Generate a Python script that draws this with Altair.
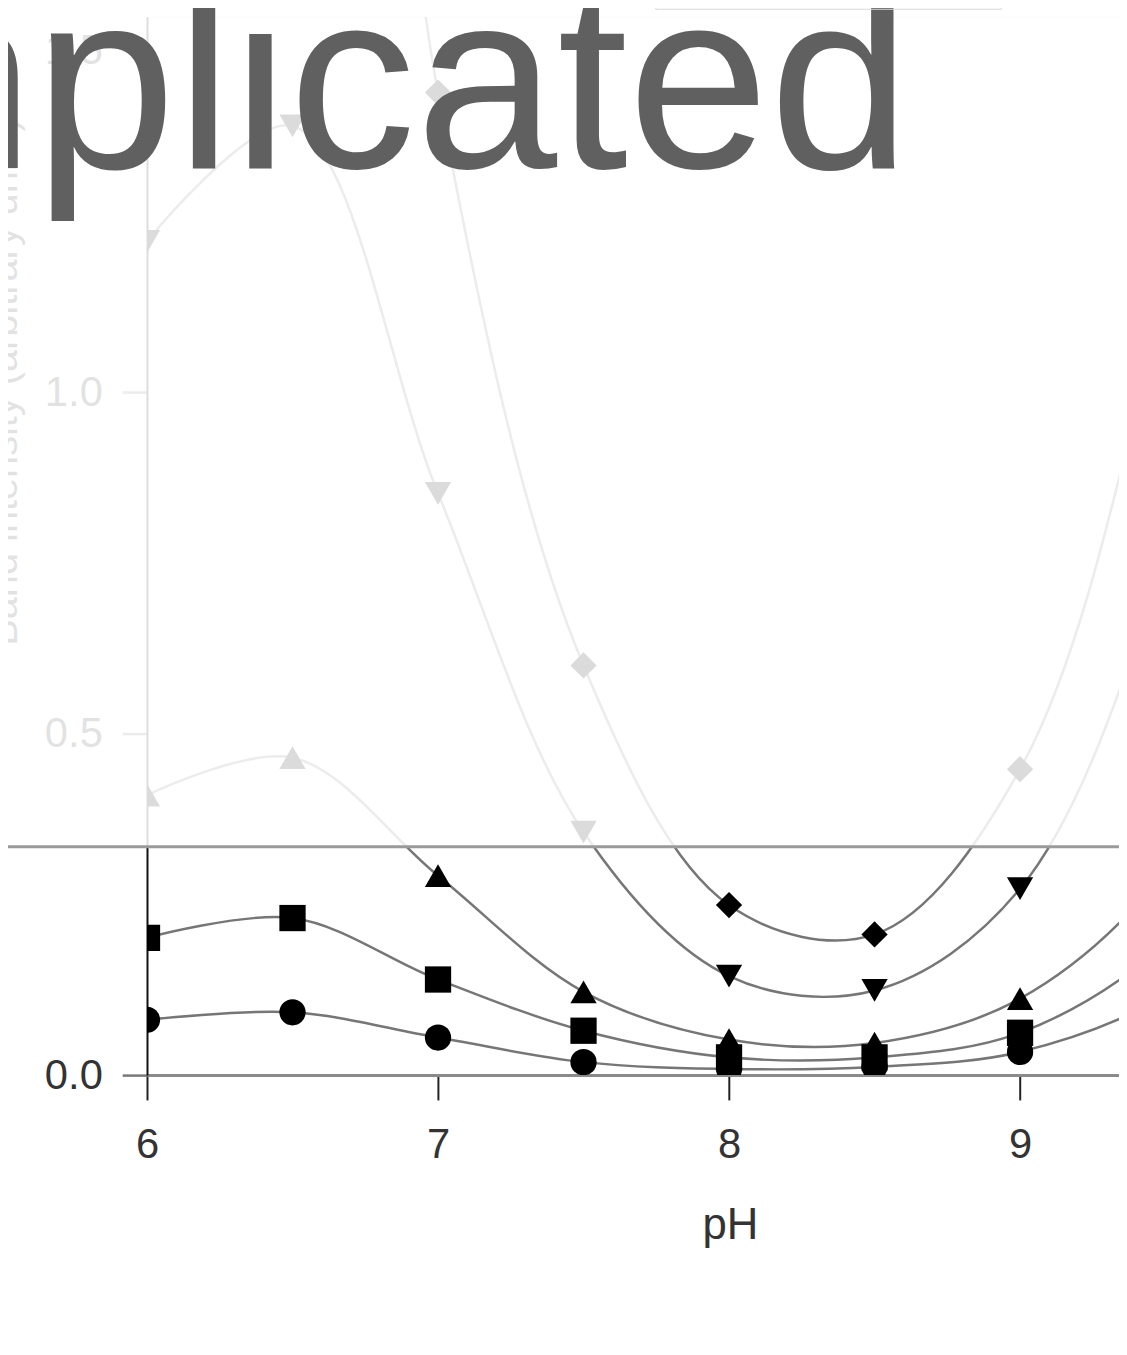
import altair as alt
import pandas as pd

# ---- data ----
ph = [6.0, 6.5, 7.0, 7.5, 8.0, 8.5, 9.0, 9.5, 10.0]
series_names = ["Series 1", "Series 2", "Series 3", "Series 4", "Series 5"]
circle_vals = [0.081, 0.092, 0.055, 0.019, 0.009, 0.012, 0.034, 0.117, 0.30]
square_vals = [0.201, 0.230, 0.140, 0.065, 0.026, 0.026, 0.062, 0.192, 0.45]
tri_up_vals = [0.410, 0.465, 0.292, 0.122, 0.052, 0.047, 0.112, 0.299, 0.70]
tri_down_vals = [1.221, 1.390, 0.852, 0.356, 0.145, 0.124, 0.273, 0.757, 1.60]
diamond_vals = [2.60, 3.10, 1.439, 0.600, 0.249, 0.206, 0.448, 1.151, 2.20]
shapes = ["circle", "square", "triangle-up", "triangle-down", "diamond"]
x_ticks = [6, 7, 8, 9]
y_ticks = [0.0, 0.5, 1.0, 1.5]
x_title = "pH"
y_title = "Band intensity (arbitrary units)"
slide_text = "complicated"

rows = []
for name, vals in zip(series_names, [circle_vals, square_vals, tri_up_vals, tri_down_vals, diamond_vals]):
    for p, v in zip(ph, vals):
        rows.append({"pH": p, "value": v, "series": name})
df = pd.DataFrame(rows)

FONT = "Liberation Sans"
W, H = 979, 1066

x_enc = alt.X(
    "pH:Q",
    scale=alt.Scale(domain=[6, 9.34], nice=False, zero=False),
    axis=alt.Axis(
        values=x_ticks, format="d", grid=False,
        domainColor="#8a8a8a", domainWidth=3,
        tickColor="#222222", tickWidth=2, tickSize=25,
        labelFont=FONT, labelFontSize=42, labelColor="#333333", labelPadding=25,
        labelFlush=False,
        title=x_title, titleFont=FONT, titleFontSize=44, titleFontWeight="normal",
        titleColor="#333333", titleX=587, titleY=165, titleBaseline="alphabetic",
        titleAlign="center",
    ),
)
y_enc = alt.Y(
    "value:Q",
    scale=alt.Scale(domain=[0, 1.55], nice=False),
    axis=alt.Axis(
        values=y_ticks, format=".1f", grid=False,
        domainColor="#111111", domainWidth=2,
        tickColor="#777777", tickWidth=2.5, tickSize=25,
        labelFont=FONT, labelFontSize=42, labelColor="#333333", labelPadding=20,
        labelFlush=False,
        title=y_title, titleFont=FONT, titleFontSize=40, titleFontWeight="normal",
        titleColor="#333333", titleAngle=270, titleAlign="left",
        titleBaseline="alphabetic", titleX=-131, titleY=633,
    ),
)

lines = alt.Chart(df).mark_line(
    interpolate="catmull-rom", color="#767676", strokeWidth=2.5, clip=True
).encode(x=x_enc, y=y_enc, detail="series:N")

points = alt.Chart(df).mark_point(
    filled=True, color="black", opacity=1, size=700, clip=True
).encode(
    x="pH:Q",
    y="value:Q",
    shape=alt.Shape(
        "series:N",
        scale=alt.Scale(domain=series_names, range=shapes),
        legend=alt.Legend(
            title=None, orient="none", legendX=512, legendY=-46,
            direction="horizontal", strokeColor="#d9d9d9",
            padding=8,
            labelFontSize=11, labelFont=FONT, labelColor="#dddddd",
            symbolFillColor="#dddddd", symbolStrokeColor="#dddddd",
            symbolSize=300, columnPadding=0,
        ),
    ),
)

one = pd.DataFrame({"k": [0]})

overlay = alt.Chart(one).mark_rect(color="white", opacity=0.86).encode(
    x=alt.value(-200), x2=alt.value(1200), y=alt.value(-60), y2=alt.value(836)
)
divider = alt.Chart(one).mark_rule(color="#9a9a9a", strokeWidth=3).encode(
    x=alt.value(-200), x2=alt.value(1200), y=alt.value(836)
)
big_text = alt.Chart(pd.DataFrame({"t": [slide_text]})).mark_text(
    font=FONT, fontSize=256, color="#606060", align="right", baseline="alphabetic"
).encode(text="t:N", x=alt.value(769), y=alt.value(152))

chart = alt.layer(lines, points, overlay, divider, big_text).properties(
    width=W, height=H,
    autosize=alt.AutoSizeParams(type="none"),
    padding={"left": 140, "top": 4, "right": 0, "bottom": 260},
).configure_view(strokeWidth=0).configure(background="white")

chart.save("out.html", embed_options={"renderer": "svg", "actions": False})
